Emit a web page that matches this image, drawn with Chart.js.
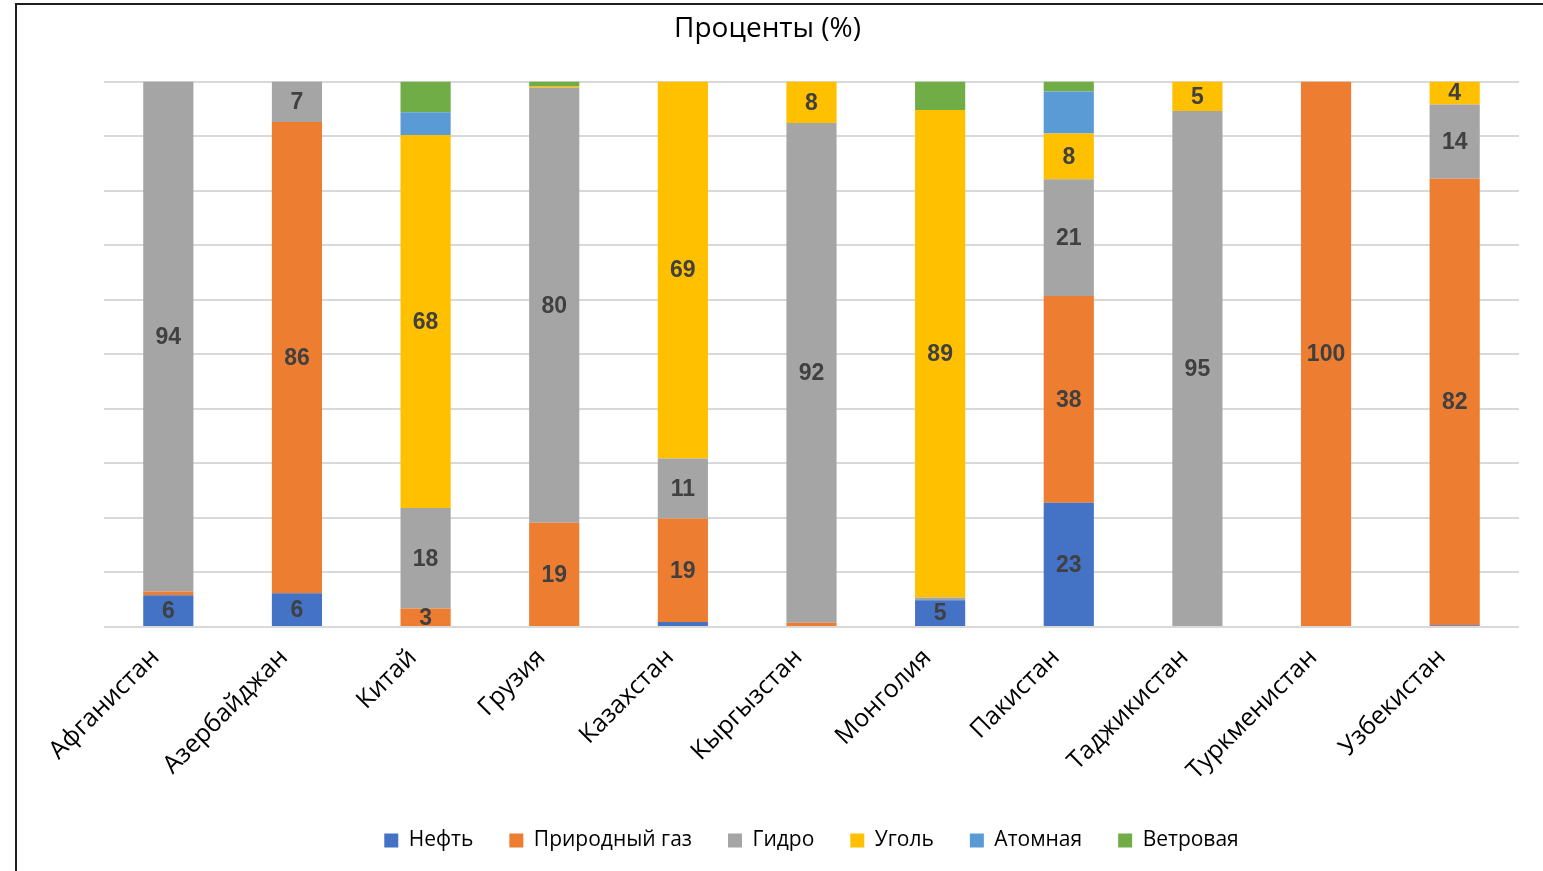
<!DOCTYPE html>
<html lang="ru">
<head>
<meta charset="utf-8">
<title>Проценты (%)</title>
<script src="https://cdn.jsdelivr.net/npm/chart.js@4/dist/chart.umd.min.js"></script>
<style>
  html, body { margin: 0; padding: 0; background: #ffffff; }
  #wrap { position: relative; width: 1543px; height: 871px; overflow: hidden; }
  #frame {
    position: absolute; left: 15px; top: 3px; width: 1526px; height: 880px;
    border-top: 2px solid #1e1e1e; border-left: 2px solid #1e1e1e;
    border-right: 1px solid #d0d0d0; pointer-events: none;
  }
</style>
</head>
<body>
<div id="wrap">
  <canvas id="chart"></canvas>
  <div id="frame"></div>
</div>
<script>
// Countries on the horizontal axis
const countries = ['Афганистан', 'Азербайджан', 'Китай', 'Грузия', 'Казахстан', 'Кыргызстан',
                   'Монголия', 'Пакистан', 'Таджикистан', 'Туркменистан', 'Узбекистан'];

// Share of electricity generation by source, percent
const oil     = [5.8, 6.2, 0,    0,    0.9,  0,    4.9,  22.8, 0,    0,   0.3];
const gas     = [0.7, 86.4, 3.4, 19.1, 19.0, 0.8,  0,    37.9, 0,    100, 81.9];
const hydro   = [93.5, 7.4, 18.4, 79.8, 11.0, 91.6, 0.5, 21.4, 94.6, 0,   13.6];
const coal    = [0,   0,   68.4, 0.3,  69.1, 7.6,  89.4, 8.4,  5.4,  0,   4.2];
const nuclear = [0,   0,   4.2,  0,    0,    0,    0,    7.7,  0,    0,   0];
const wind    = [0,   0,   5.6,  0.8,  0,    0,    5.2,  1.8,  0,    0,   0];

const seriesNames = ['Нефть', 'Природный газ', 'Гидро', 'Уголь', 'Атомная', 'Ветровая'];
const seriesData  = [oil, gas, hydro, coal, nuclear, wind];
const seriesColors = ['#4472C4', '#ED7D31', '#A5A5A5', '#FFC000', '#5B9BD5', '#70AD47'];
const labelledSeries = [0, 1, 2, 3];   // sources that carry value labels

const yTicks = { min: 0, max: 100, step: 10 };

// Value labels centred inside each stacked segment
const segmentLabels = {
  id: 'segmentLabels',
  afterDatasetsDraw(chart) {
    const ctx = chart.ctx;
    ctx.save();
    ctx.font = 'bold 23px "Liberation Sans", Arial, sans-serif';
    ctx.fillStyle = '#404040';
    ctx.textAlign = 'center';
    ctx.textBaseline = 'middle';
    labelledSeries.forEach(di => {
      const meta = chart.getDatasetMeta(di);
      meta.data.forEach((bar, i) => {
        const v = chart.data.datasets[di].data[i];
        if (v < 2) return;
        const y = (bar.y + bar.base) / 2;
        ctx.fillText(String(Math.round(v)), bar.x, y + 1);
      });
    });
    ctx.restore();
  }
};

new Chart(document.getElementById('chart'), {
  type: 'bar',
  data: {
    labels: countries,
    datasets: seriesNames.map((name, k) => ({
      label: name,
      data: seriesData[k],
      backgroundColor: seriesColors[k],
      borderWidth: 0,
      barPercentage: 0.39,
      categoryPercentage: 1.0
    }))
  },
  options: {
    responsive: true,
    maintainAspectRatio: false,
    animation: false,
    layout: { padding: { left: 16, right: 24, top: 3, bottom: 10 } },
    plugins: {
      title: {
        display: true,
        text: 'Проценты (%)',
        color: '#000000',
        font: { family: '"Open Sans", sans-serif', size: 28, weight: 'normal' },
        padding: { top: 9, bottom: 36 }
      },
      legend: {
        position: 'bottom',
        fullSize: false,
        labels: {
          color: '#000000',
          font: { family: '"Open Sans", sans-serif', size: 21 },
          boxWidth: 14,
          boxHeight: 14,
          padding: 36
        }
      },
      tooltip: { enabled: false }
    },
    scales: {
      x: {
        stacked: true,
        grid: { display: false },
        border: { display: false },
        ticks: {
          color: '#000000',
          font: { family: '"Open Sans", sans-serif', size: 25 },
          minRotation: 45,
          maxRotation: 45,
          padding: 8,
          labelOffset: -13
        },
        afterFit(scale) { scale.height = 167; }
      },
      y: {
        stacked: true,
        min: yTicks.min,
        max: yTicks.max,
        ticks: { display: false, stepSize: yTicks.step },
        grid: { color: '#D9D9D9', lineWidth: 2, drawTicks: false },
        border: { display: false },
        afterFit(scale) { scale.width = 88; }
      }
    }
  },
  plugins: [segmentLabels]
});
</script>
</body>
</html>
